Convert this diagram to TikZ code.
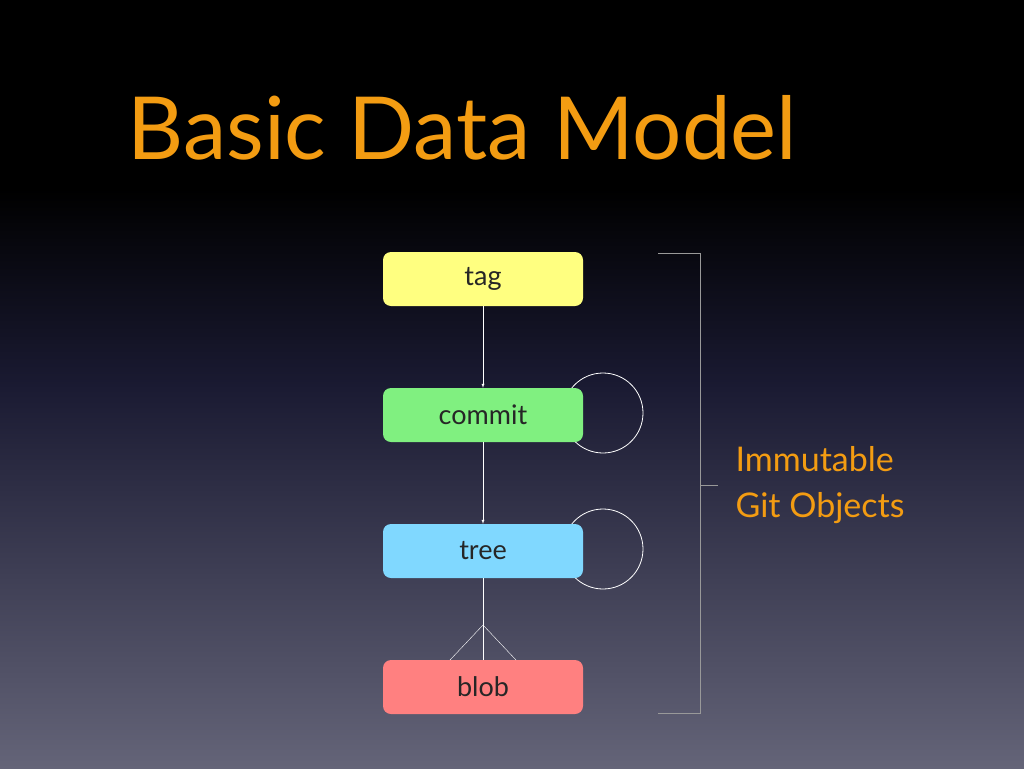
\documentclass[tikz,border=0pt]{standalone}
\usepackage{fontspec}
\setmainfont{Lato}
\definecolor{titleorange}{HTML}{F39C12}
\definecolor{tagcol}{HTML}{FFFF80}
\definecolor{commitcol}{HTML}{80F080}
\definecolor{treecol}{HTML}{80D8FF}
\definecolor{blobcol}{HTML}{FF8080}
\definecolor{bgmiddle}{HTML}{1A1A32}
\definecolor{bgbottom}{HTML}{646478}
\tikzset{objbox/.style = {draw = none, rounded corners = 8pt, minimum width = 200pt,
    minimum height = 54pt, font = \fontsize{27}{29}\selectfont, text = black!85}}
\begin{document}
\begin{tikzpicture}[x = 1pt, y = -1pt]
    \shade [top color = black, bottom color = bgbottom, middle color = bgmiddle]
        (0,0) rectangle (1024,768);
    \fill [black] (0,0) rectangle (1024,190);
    \shade [top color = black, bottom color = bgmiddle] (0,189) rectangle (1024,385);
    \useasboundingbox (0,0) rectangle (1024,768);
    \node [anchor = west, text = titleorange, font = \fontsize{87}{92}\selectfont] (title) at (124,128) {Basic Data Model};
    % self references
    \draw [white, thick] (603,413) circle (40);
    \draw [white, thick] (603,549) circle (40);
    \node [objbox, fill = tagcol] (tag) at (483,279) {tag};
    \node [objbox, fill = commitcol] (commit) at (483,415) {commit};
    \node [objbox, fill = treecol] (tree) at (483,551) {tree};
    \node [objbox, fill = blobcol] (blob) at (483,687) {blob};
    \draw [white, -latex] (tag) -- (commit);
    \draw [white, -latex] (commit) -- (tree);
    \coordinate (fork) at (483,625);
    \draw [white] (tree) -- (blob.north);
    \draw [white] (fork) -- (450,660) (fork) -- (516,660);
    \draw [gray!80] (658,253) -- (700,253) -- (700,713) -- (658,713);
    \draw [gray!80] (700,485) -- (718,485);
    \node [anchor = west, align = left, text = titleorange, font = \fontsize{34}{46}\selectfont] (label) at (732,485) {Immutable\\Git Objects};
\end{tikzpicture}
\end{document}
